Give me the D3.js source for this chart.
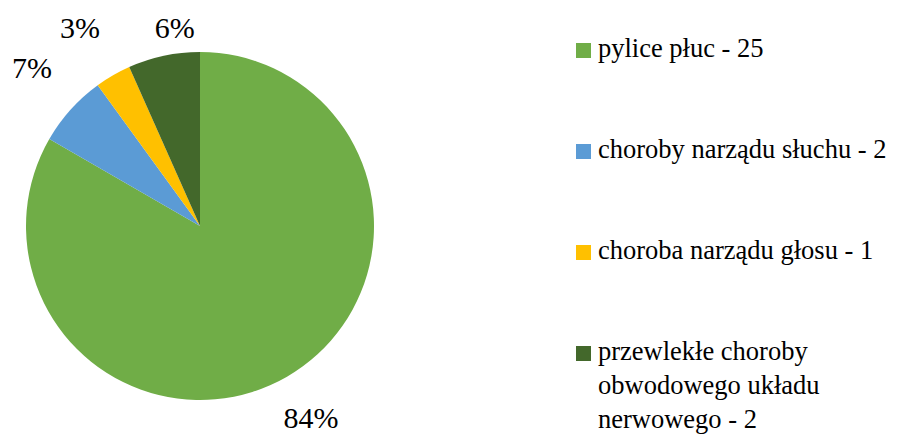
<!DOCTYPE html>
<html>
<head>
<meta charset="utf-8">
<script src="https://cdn.jsdelivr.net/npm/d3@7"></script>
<style>
    body { margin: 0; background: #fff; }
    svg { display: block; }
</style>
</head>
<body>
<div id="chart"></div>
<script>
const categories = [
    ["pylice płuc - 25"],
    ["choroby narządu słuchu - 2"],
    ["choroba narządu głosu - 1"],
    ["przewlekłe choroby", "obwodowego układu", "nerwowego - 2"]
];
const values = [25, 2, 1, 2];
const percentLabels = ["84%", "7%", "3%", "6%"];
const colors = ["#70AD47", "#5B9BD5", "#FFC000", "#43682B"];

// label nudges (Excel moves small labels to avoid overlap)
const nudge = [[0, 0], [-3, -9], [-9, -6], [21, 19]];

const W = 919, H = 434;
const cx = 200, cy = 226, R = 174;
const FONT = "Liberation Serif, DejaVu Serif";

const svg = d3.select("#chart").append("svg")
    .attr("width", W)
    .attr("height", H)
    .style("font-family", FONT);

const pie = d3.pie().sort(null).value(d => d)(values);
const arc = d3.arc().innerRadius(0).outerRadius(R);
const labelArc = d3.arc().innerRadius(222).outerRadius(222);

const g = svg.append("g").attr("transform", `translate(${cx},${cy})`);

g.selectAll("path")
    .data(pie)
    .join("path")
    .attr("d", arc)
    .attr("fill", (d, i) => colors[i]);

g.selectAll("text.pct")
    .data(pie)
    .join("text")
    .attr("class", "pct")
    .attr("x", (d, i) => labelArc.centroid(d)[0] + nudge[i][0])
    .attr("y", (d, i) => labelArc.centroid(d)[1] + nudge[i][1] + 10)
    .attr("text-anchor", "middle")
    .style("font-family", FONT)
    .style("font-size", "30px")
    .text((d, i) => percentLabels[i]);

// legend
const legend = svg.append("g").attr("transform", "translate(576,0)");
const rowY = d3.scalePoint().domain(d3.range(categories.length)).range([57, 360]);

const item = legend.selectAll("g")
    .data(categories)
    .join("g")
    .attr("transform", (d, i) => `translate(0,${rowY(i)})`);

item.append("rect")
    .attr("x", 0)
    .attr("y", -14)
    .attr("width", 15)
    .attr("height", 15)
    .attr("fill", (d, i) => colors[i]);

item.append("text")
    .attr("x", 22)
    .style("font-family", FONT)
    .style("font-size", "26.5px")
    .selectAll("tspan")
    .data(d => d)
    .join("tspan")
    .attr("x", 22)
    .attr("dy", (d, j) => j == 0 ? 0 : 34)
    .text(d => d);
</script>
</body>
</html>
